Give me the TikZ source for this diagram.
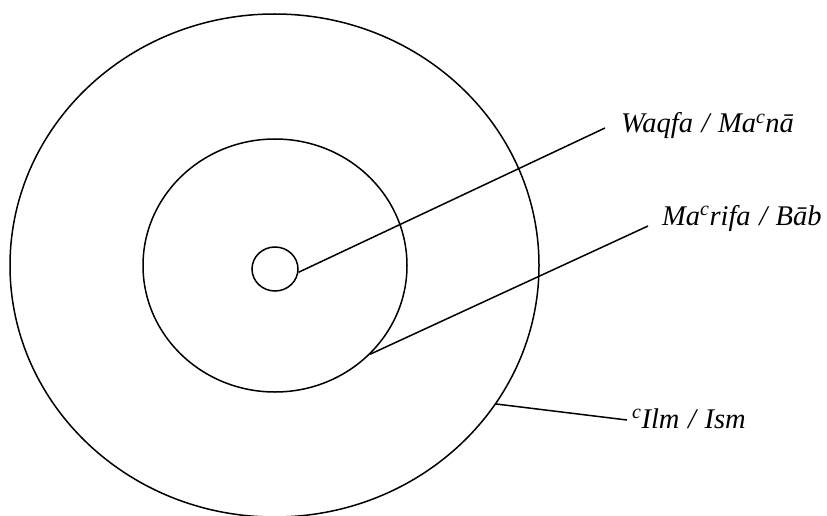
\documentclass[tikz,border=0pt]{standalone}
\usepackage{fontspec}
\setmainfont{Liberation Serif}
\usetikzlibrary{shapes.geometric}
\newcommand{\slsep}{\hspace{0.3em}/\hspace{0.3em}}
\tikzset{
  ring/.style={draw, ellipse, inner sep=0pt, line width=1.5pt},
  conn/.style={line width=1.5pt},
  lab/.style={anchor=base west, inner sep=0pt, font=\fontsize{28.5}{32}\selectfont\itshape}
}
\begin{document}
\begin{tikzpicture}[x=1pt,y=-1pt]
\useasboundingbox (0,0) rectangle (827,516);
\node[ring, minimum width=529pt, minimum height=503pt] (outer) at (274.5,265.5) {};
\node[ring, minimum width=264pt, minimum height=253pt] (middle) at (275,265.5) {};
\node[ring, minimum width=46pt, minimum height=44pt] (small) at (275,269) {};
\coordinate (e1) at (605,128);
\coordinate (e2) at (648,226);
\coordinate (e3) at (627,420);
\node[lab] (w1) at (621,133) {Waqfa\slsep Ma\textsuperscript{c}nā};
\node[lab] (w2) at (662,225) {Ma\textsuperscript{c}rifa\slsep Bāb};
\node[lab] (w3) at (632,428) {\textsuperscript{c}Ilm\slsep Ism};
\draw[conn] (small.-8) -- (e1);
\draw[conn] (middle.-43.6) -- (e2);
\draw[conn] (outer.-32.3) -- (e3);
\end{tikzpicture}
\end{document}
